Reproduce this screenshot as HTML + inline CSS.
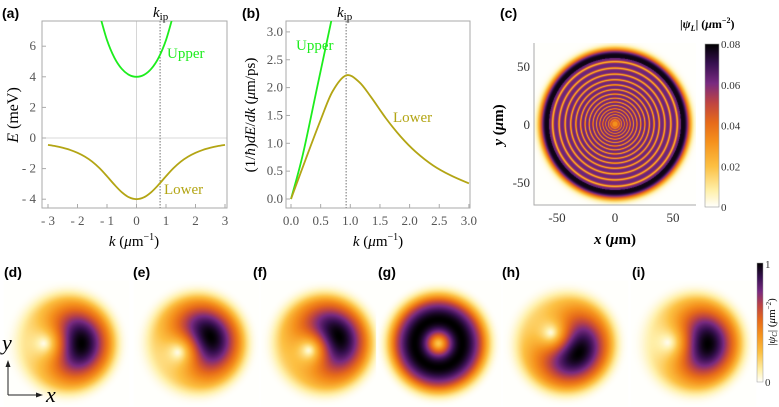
<!DOCTYPE html>
<html><head><meta charset="utf-8">
<style>
html,body{margin:0;padding:0;background:#fff;}
#root{position:relative;width:779px;height:407px;overflow:hidden;font-family:"Liberation Serif",serif;}
svg text{font-family:"Liberation Serif",serif;}
.lbl{font-family:"Liberation Sans",sans-serif;font-weight:bold;font-size:14px;}
canvas{position:absolute;}
</style></head>
<body>
<div id="root">
<canvas id="cv-c" width="162" height="162" style="left:534px;top:43px"></canvas>
<canvas id="cv-b" width="779" height="130" style="left:0;top:277px"></canvas>
<svg id="svg" width="779" height="407" style="position:absolute;left:0;top:0"></svg>
</div>
<script>
// ---- data ----
const kLowerA=[-3,-2.75,-2.5,-2.25,-2,-1.75,-1.5,-1.25,-1,-0.75,-0.5,-0.25,0,0.25,0.5,0.75,1,1.25,1.5,1.75,2,2.25,2.5,2.75,3];
const eLowerA=[-0.45,-0.53,-0.64,-0.78,-0.97,-1.22,-1.55,-1.98,-2.5,-3.05,-3.54,-3.88,-4,-3.88,-3.54,-3.05,-2.5,-1.98,-1.55,-1.22,-0.97,-0.78,-0.64,-0.53,-0.45];
const kUpperA=[-1.25,-1,-0.75,-0.5,-0.25,0,0.25,0.5,0.75,1,1.25];
const eUpperA=[8.07,6.4,5.25,4.52,4.12,4,4.12,4.52,5.25,6.4,8.07];
const kIpA=0.8;
const xTicksA=[-3,-2,-1,0,1,2,3];
const yTicksA=[-4,-2,0,2,4,6];
const kLowerB=[0,0.25,0.5,0.7,0.93,1.15,1.35,1.6,1.85,2.1,2.4,2.7,3];
const vLowerB=[0,0.72,1.42,1.93,2.22,2.1,1.83,1.45,1.12,0.85,0.6,0.42,0.28];
const kUpperB=[0,0.2,0.45,0.7];
const vUpperB=[0,0.8,2.05,3.3];
const kIpB=0.93;
const xTicksB=[0,0.5,1,1.5,2,2.5,3];
const yTicksB=[0,0.5,1,1.5,2,2.5,3];
const cbTicksC=[0,0.02,0.04,0.06,0.08];
const xyTicksC=[-50,0,50];
const tileCx=[66,196,323,438,565,693];
const tileVx=[-23,-19,-15,0,-15,-26];
const tileVy=[0,9,7,0,-11,-1];
const tileNames=['(d)','(e)','(f)','(g)','(h)','(i)'];
const tileLabelX=[4,133,253,378,502,632];

const NS='http://www.w3.org/2000/svg';
const svg=document.getElementById('svg');
function mk(tag,attrs,parent){const e=document.createElementNS(NS,tag);for(const k in attrs)e.setAttribute(k,attrs[k]);(parent||svg).appendChild(e);return e;}
function txt(s,x,y,attrs,parent){const e=mk('text',Object.assign({x:x,y:y},attrs||{}),parent);e.textContent=s;return e;}
function smooth(pts){let d='M'+pts[0][0]+','+pts[0][1];for(let i=0;i<pts.length-1;i++){const p0=pts[Math.max(0,i-1)],p1=pts[i],p2=pts[i+1],p3=pts[Math.min(pts.length-1,i+2)];
d+=' C'+(p1[0]+(p2[0]-p0[0])/6)+','+(p1[1]+(p2[1]-p0[1])/6)+' '+(p2[0]-(p3[0]-p1[0])/6)+','+(p2[1]-(p3[1]-p1[1])/6)+' '+p2[0]+','+p2[1];}return d;}
const defs=mk('defs',{});
const GREEN='#1ded1d',OLIVE='#b3a514',GRAY='#555';

// ---- panel a ----
const xa=k=>48+(k+3)*29.5, ya=E=>138-15.3*E;
let cp=mk('clipPath',{id:'clipA'},defs);mk('rect',{x:42,y:21,width:185,height:187},cp);
mk('line',{x1:42,x2:227,y1:ya(0),y2:ya(0),stroke:'#ccc','stroke-width':0.8});
mk('line',{x1:xa(0),x2:xa(0),y1:21,y2:208,stroke:'#ccc','stroke-width':0.8});
mk('rect',{x:42,y:21,width:185,height:187,fill:'none',stroke:'#aaa','stroke-width':1});
xTicksA.forEach(t=>{const l=mk('line',{x1:xa(t),x2:xa(t),y1:208,y2:204,stroke:'#aaa'});

txt(t<0?'- '+(-t):String(t),xa(t),225,{'text-anchor':'middle','font-size':13,fill:GRAY});});
yTicksA.forEach(t=>{mk('line',{x1:42,x2:46,y1:ya(t),y2:ya(t),stroke:'#aaa'});
txt(t<0?'- '+(-t):String(t),36,ya(t)+4,{'text-anchor':'end','font-size':13,fill:GRAY});});
mk('line',{x1:xa(kIpA),x2:xa(kIpA),y1:21,y2:208,stroke:'#888','stroke-dasharray':'1.5,1.5','stroke-width':1.2,});
mk('path',{d:smooth(kUpperA.map((k,i)=>[xa(k),ya(eUpperA[i])])),fill:'none',stroke:GREEN,'stroke-width':1.8,'clip-path':'url(#clipA)',});
mk('path',{d:smooth(kLowerA.map((k,i)=>[xa(k),ya(eLowerA[i])])),fill:'none',stroke:OLIVE,'stroke-width':1.8,'clip-path':'url(#clipA)',});
txt('Upper',167,58,{fill:GREEN,'font-size':15,});
txt('Lower',164,194,{fill:OLIVE,'font-size':15,});
let t1=txt('',153,17,{'font-size':15,});t1.innerHTML='<tspan font-style="italic">k</tspan><tspan font-size="11" dy="3">ip</tspan>';
let ty=txt('',0,0,{'font-size':16,'text-anchor':'middle',transform:'translate(18,115) rotate(-90)',});ty.innerHTML='<tspan font-style="italic">E</tspan> (meV)';
let tx=txt('',134,246,{'font-size':15,'text-anchor':'middle',});tx.innerHTML='<tspan font-style="italic">k</tspan> (<tspan font-style="italic">μ</tspan>m<tspan font-size="10" dy="-6">−1</tspan><tspan dy="6">)</tspan>';
txt('(a)',2,18,{'class':'lbl',});

// ---- panel b ----
const xb=k=>291+k*59.3, yb=v=>199-v*55.7;
cp=mk('clipPath',{id:'clipB'},defs);mk('rect',{x:286,y:21,width:184,height:187},cp);
mk('rect',{x:286,y:21,width:184,height:187,fill:'none',stroke:'#aaa','stroke-width':1});
xTicksB.forEach(t=>{mk('line',{x1:xb(t),x2:xb(t),y1:208,y2:204,stroke:'#aaa'});
txt(t.toFixed(1),xb(t),225,{'text-anchor':'middle','font-size':13,fill:GRAY});});
yTicksB.forEach(t=>{mk('line',{x1:286,x2:290,y1:yb(t),y2:yb(t),stroke:'#aaa'});
txt(t.toFixed(1),283,yb(t)+4,{'text-anchor':'end','font-size':13,fill:GRAY});});
mk('line',{x1:xb(kIpB),x2:xb(kIpB),y1:21,y2:208,stroke:'#888','stroke-dasharray':'1.5,1.5','stroke-width':1.2,});
mk('path',{d:smooth(kUpperB.map((k,i)=>[xb(k),yb(vUpperB[i])])),fill:'none',stroke:GREEN,'stroke-width':1.8,'clip-path':'url(#clipB)',});
mk('path',{d:smooth(kLowerB.map((k,i)=>[xb(k),yb(vLowerB[i])])),fill:'none',stroke:OLIVE,'stroke-width':1.8,'clip-path':'url(#clipB)',});
txt('Upper',296,50,{fill:GREEN,'font-size':15,});
txt('Lower',393,122,{fill:OLIVE,'font-size':15,});
t1=txt('',337,17,{'font-size':15,});t1.innerHTML='<tspan font-style="italic">k</tspan><tspan font-size="11" dy="3">ip</tspan>';
ty=txt('',0,0,{'font-size':15,'text-anchor':'middle',transform:'translate(255,115) rotate(-90)',});ty.innerHTML='(1/<tspan font-style="italic">ħ</tspan>)<tspan font-style="italic">dE</tspan>/<tspan font-style="italic">dk</tspan> (<tspan font-style="italic">μ</tspan>m/ps)';
tx=txt('',378,246,{'font-size':15,'text-anchor':'middle',});tx.innerHTML='<tspan font-style="italic">k</tspan> (<tspan font-style="italic">μ</tspan>m<tspan font-size="10" dy="-6">−1</tspan><tspan dy="6">)</tspan>';
txt('(b)',242,18,{'class':'lbl',});

// ---- colormap ----
const cmapStops=[[0,[255,255,252]],[0.1,[255,240,170]],[0.25,[252,192,66]],[0.4,[245,145,28]],[0.52,[230,106,26]],[0.64,[190,68,66]],[0.76,[120,42,128]],[0.88,[55,16,80]],[1,[0,0,0]]];
function cmap(v){v=Math.max(0,Math.min(1,v));for(let i=1;i<cmapStops.length;i++){if(v<=cmapStops[i][0]){const a=cmapStops[i-1],b=cmapStops[i],t=(v-a[0])/(b[0]-a[0]);return a[1].map((c,j)=>Math.round(c+(b[1][j]-c)*t));}}return [0,0,0];}
const grad=mk('linearGradient',{id:'cbg',x1:0,y1:1,x2:0,y2:0},defs);
cmapStops.forEach(s=>mk('stop',{offset:s[0],'stop-color':'rgb('+s[1].join(',')+')'},grad));

// ---- panel c ----
(function(){const c=document.getElementById('cv-c'),g=c.getContext('2d'),im=g.createImageData(162,162);
for(let y=0;y<162;y++)for(let x=0;x<162;x++){let acc=0;
for(let sy=0;sy<2;sy++)for(let sx=0;sx<2;sx++){const r=Math.hypot(x+0.25+sx*0.5-81,y+0.25+sy*0.5-81);let v;
if(r<66){const N=13.2*Math.log(1+5*r/132);const p=Math.pow((1+Math.cos(2*Math.PI*N))/2,5);v=0.78-0.55*p;if(r<7)v=0.35+(v-0.35)*(r/7);}
else if(r<69)v=0.97;else v=0.97*Math.exp(-Math.pow((r-69)/6.5,2));acc+=v;}
const col=cmap(acc/4),i=(y*162+x)*4;im.data[i]=col[0];im.data[i+1]=col[1];im.data[i+2]=col[2];im.data[i+3]=255;}
g.putImageData(im,0,0);})();
mk('path',{d:'M534,43 V205 H696',fill:'none',stroke:'#aaa','stroke-width':1});
const xc=v=>615+v*1.16, yc=v=>124-v*1.16;
xyTicksC.forEach(t=>{txt(String(t),xc(t),222,{'text-anchor':'middle','font-size':13,fill:'#333'});
txt(String(t),530,yc(t)+5,{'text-anchor':'end','font-size':13,fill:'#333'});});
const cbY=v=>207-v/0.08*163;
mk('rect',{x:705,y:44,width:14,height:163,fill:'url(#cbg)',stroke:'#999','stroke-width':0.6,});
cbTicksC.forEach(t=>txt(t===0?'0':t.toFixed(2),721,cbY(t)+4,{'font-size':11,fill:'#333'}));
let tt=txt('',680,28,{'font-size':12,'font-weight':'bold',});tt.innerHTML='|<tspan font-style="italic">ψ<tspan font-size="8" dy="3">L</tspan></tspan><tspan dy="-3">| (</tspan><tspan font-style="italic">μ</tspan>m<tspan font-size="8" dy="-5">−2</tspan><tspan dy="5">)</tspan>';
tx=txt('',615,244,{'font-size':15,'font-weight':'bold','text-anchor':'middle',});tx.innerHTML='<tspan font-style="italic">x</tspan> (<tspan font-style="italic">μ</tspan>m)';
ty=txt('',0,0,{'font-size':15,'font-weight':'bold','text-anchor':'middle',transform:'translate(503,125) rotate(-90)',});ty.innerHTML='<tspan font-style="italic">y</tspan> (<tspan font-style="italic">μ</tspan>m)';
txt('(c)',500,18,{'class':'lbl',});

// ---- bottom row ----
(function(){const c=document.getElementById('cv-b'),g=c.getContext('2d'),W=779,H=130,im=g.createImageData(W,H);
for(let i=0;i<W*H;i++){im.data[i*4]=255;im.data[i*4+1]=255;im.data[i*4+2]=255;im.data[i*4+3]=255;}
const cy=66,w=34;
tileCx.forEach((cx,ti)=>{const vx=tileVx[ti],vy=tileVy[ti],eps=(vx===0&&vy===0)?12:2;
const f=(dx,dy)=>{const d2=dx*dx+dy*dy;return Math.sqrt((dx-vx)*(dx-vx)+(dy-vy)*(dy-vy)+eps)*Math.exp(-d2/(w*w));};
let mx=0;for(let dy=-62;dy<=62;dy++)for(let dx=-62;dx<=62;dx++)mx=Math.max(mx,f(dx,dy));
for(let dy=-62;dy<=62;dy++)for(let dx=-62;dx<=62;dx++){const x=cx+dx,y=cy+dy;if(x<0||x>=W||y<0||y>=H)continue;
const r=Math.hypot(dx,dy);let win=r<40?1:r>64?0:0.5+0.5*Math.cos(Math.PI*(r-40)/24);
let v=Math.pow(f(dx,dy)/mx,1.0)*win;const col=cmap(v),i=(y*W+x)*4;im.data[i]=col[0];im.data[i+1]=col[1];im.data[i+2]=col[2];}});
g.putImageData(im,0,0);})();
tileNames.forEach((n,i)=>{const e=txt(n,tileLabelX[i],277,{'class':'lbl'});

});
mk('rect',{x:757,y:263,width:6,height:119,fill:'url(#cbg)',stroke:'#999','stroke-width':0.5,});
txt('1',765,268,{'font-size':11,fill:'#333'});txt('0',765,386,{'font-size':11,fill:'#333'});
tt=txt('',0,0,{'font-size':11,'text-anchor':'middle',transform:'translate(775,322) rotate(-90)',});tt.innerHTML='|<tspan font-style="italic">ψ<tspan font-size="7" dy="2">C</tspan></tspan><tspan dy="-2">| (</tspan><tspan font-style="italic">μ</tspan>m<tspan font-size="7" dy="-4">−2</tspan><tspan dy="4">)</tspan>';
mk('path',{d:'M8,395 V363 M8,395 H40',stroke:'#222','stroke-width':1,fill:'none',});
mk('path',{d:'M8,360 L5.5,367 L10.5,367 Z M43,395 L36,392.5 L36,397.5 Z',fill:'#222'});
txt('y',2,350,{'font-size':22,'font-style':'italic',});
txt('x',46,402,{'font-size':22,'font-style':'italic',});
</script>
</body></html>
